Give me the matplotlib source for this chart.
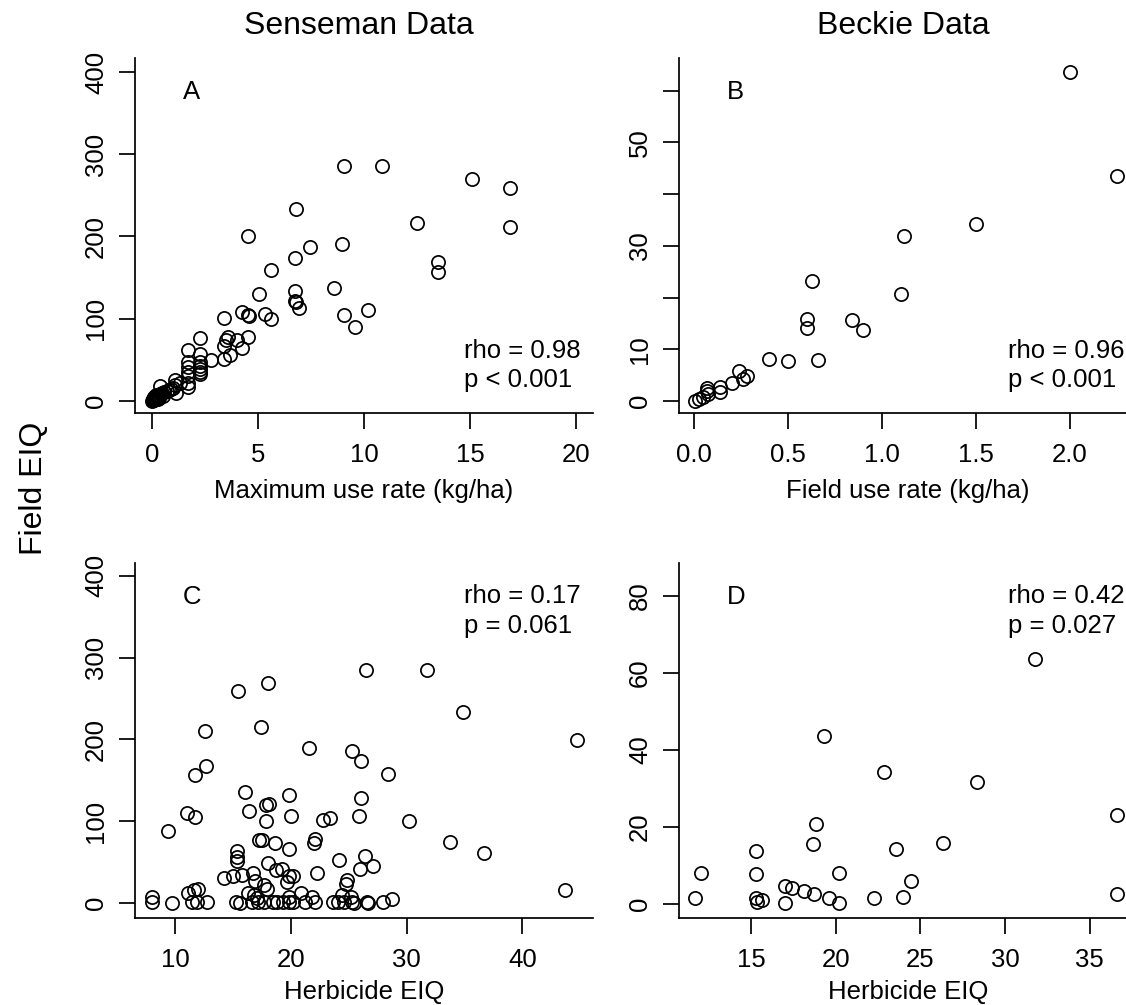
"""
Field EIQ vs use rate and herbicide EIQ
---------------------------------------
Four scatter panels (Senseman data left, Beckie data right),
drawn in the plain base-R look: open circles, L-shaped box.
"""

import matplotlib.pyplot as plt

plt.rcParams["font.family"] = ["Liberation Sans", "DejaVu Sans"]

# Panel A: Senseman, maximum use rate (kg/ha) vs field EIQ
a_rate = [9.08, 10.87, 15.09, 16.9, 16.9, 12.48, 6.79, 4.52, 7.46, 8.96,
          6.73, 13.5, 13.5, 5.64, 5.06, 8.61, 6.75, 6.75, 6.79, 6.95,
          9.08, 9.59, 10.17, 3.40, 4.27, 4.52, 4.58, 5.32, 5.64, 4.52,
          4.27, 4.04, 3.60, 3.48, 3.40, 3.68, 3.40, 2.81, 2.26, 1.71,
          2.26, 2.26, 2.26, 2.26, 2.26, 2.26, 1.71, 1.71, 1.71, 1.71,
          1.71, 1.71, 1.11, 1.11, 1.15, 1.34, 0.39,
          0.02, 0.05, 0.08, 0.10, 0.12, 0.15, 0.18, 0.20, 0.25, 0.30,
          0.35, 0.40, 0.45, 0.50, 0.60, 0.70, 0.80, 0.90, 0.05, 0.30,
          0.55, 1.00, 0.10, 0.22, 0.35]
a_eiq = [286, 286, 270, 259, 211, 216, 234, 200, 187, 191,
         174, 169, 157, 159, 130, 137, 134, 122, 120, 113,
         105, 90, 111, 101, 108, 104, 103, 106, 100, 78,
         65, 74, 78, 74, 67, 56, 51, 50, 76, 62,
         57, 47, 43, 39, 35, 33, 47, 41, 35, 30,
         22, 17, 26, 20, 10, 22, 18,
         0.5, 1, 1.5, 2.5, 1, 3, 4, 2, 5, 6,
         7, 8, 9, 10, 11, 12, 13, 15, 3, 3,
         6, 16, 5, 7, 4]

# Panel B: Beckie, field use rate (kg/ha) vs field EIQ
b_rate = [2.0, 2.25, 1.5, 1.119, 1.099, 0.63, 0.60, 0.60, 0.84, 0.90,
          0.40, 0.50, 0.66, 0.24, 0.26, 0.28, 0.20, 0.14, 0.14, 0.067,
          0.07, 0.076, 0.028, 0.005, 0.05]
b_eiq = [63.6, 43.5, 34.3, 31.9, 20.7, 23.2, 15.9, 14.1, 15.7, 13.7,
         8.1, 7.7, 8.0, 5.9, 4.3, 4.8, 3.5, 2.7, 1.7, 2.6,
         1.9, 1.4, 0.5, 0.1, 0.8]

# Panel C: Senseman, herbicide EIQ vs field EIQ
c_herb = [26.48, 31.8, 18.07, 15.42, 34.84, 44.7, 12.59, 17.44, 21.53, 25.27,
          26.02, 12.65, 11.76, 28.39, 16.0, 19.86, 26.05, 17.84, 18.13, 16.4,
          11.0, 11.7, 20.03, 17.87, 22.82, 23.4, 25.85, 30.2, 9.39, 17.29,
          17.55, 18.67, 19.86, 21.96, 22.1, 33.78, 36.7, 15.33, 15.33, 15.33,
          18.0, 18.7, 19.28, 19.86, 20.2, 19.65, 22.3, 24.18, 26.37, 27.09,
          26.0, 24.84, 24.75, 14.24, 15.04, 15.79, 16.71, 16.94, 17.72, 17.98,
          43.66, 7.98, 7.98, 9.74, 11.15, 11.67, 12.02, 11.44, 11.87, 12.74,
          15.27, 15.62, 16.34, 16.83, 17.06, 16.63, 17.2, 17.64, 18.44, 18.79,
          19.31, 19.8, 19.8, 20.23, 20.9, 21.24, 21.87, 22.1, 23.6, 24.06,
          24.41, 24.55, 25.22, 25.27, 25.42, 26.57, 26.7, 28.0, 28.73]
c_eiq = [285, 285, 269, 259, 233, 199, 210, 215, 190, 186,
         174, 168, 157, 158, 136, 132, 129, 120, 121, 113,
         110, 105, 106, 100, 102, 104, 107, 101, 88, 77,
         77, 73, 66, 74, 78, 75, 61, 64, 56, 51,
         49, 41, 42, 33, 33, 26, 37, 53, 58, 46,
         42, 28, 24, 31, 33, 35, 37, 27, 22, 18,
         16, 8, 1, 0, 12, 16, 18, 2, 2, 1,
         1, 0, 12, 10, 6, 1, 1, 1, 1, 1,
         1, 8, 1, 1, 12, 1, 8, 2, 1, 2,
         10, 1, 8, 2, 0, 1, 0, 2, 5]

# Panel D: Beckie, herbicide EIQ vs field EIQ
d_herb = [31.8, 19.32, 22.83, 28.35, 36.64, 18.85, 18.65, 26.34, 23.56, 15.3,
          15.3, 12.02, 20.19, 24.45, 17.01, 17.41, 18.1, 18.69, 19.58, 20.19,
          17.01, 11.7, 15.3, 15.34, 15.63, 22.28, 23.97, 36.64]
d_eiq = [63.7, 43.6, 34.3, 31.8, 23.2, 20.7, 15.7, 15.8, 14.2, 13.8,
         7.7, 8.0, 8.1, 5.9, 4.8, 4.3, 3.5, 2.7, 1.5, 0.2,
         0.3, 1.6, 1.5, 0.6, 1.0, 1.5, 1.8, 2.6]

W, H = 1126, 1005
FS = 18.5
LW = 1.25


def px_rect(left, top, right, bottom):
    """Axes rectangle from pixel edges (origin at the top left)."""
    return [left / W, 1 - bottom / H, (right - left) / W, (bottom - top) / H]


def scatter_panel(fig, rect, x, y, xlim, ylim, xticks, xlabels, yticks, ylabels,
                  xlabel, letter, stats, stats_y, labelpad=9):
    ax = fig.add_axes(rect)
    ax.plot(x, y, linestyle="none", marker="o", markersize=9.5,
            markerfacecolor="none", markeredgecolor="black", markeredgewidth=LW)
    ax.set_xlim(*xlim)
    ax.set_ylim(*ylim)

    # base-R look: only the left and bottom lines
    for side in ["top", "right"]:
        ax.spines[side].set_visible(False)
    for side in ["left", "bottom"]:
        ax.spines[side].set_linewidth(LW)

    ax.set_xticks(xticks)
    ax.set_xticklabels(xlabels)
    ax.set_yticks(yticks)
    ax.set_yticklabels(ylabels, rotation=90, va="center")
    ax.tick_params(length=11.5, width=LW, labelsize=FS, direction="out")
    ax.tick_params(axis="x", pad=10)
    ax.tick_params(axis="y", pad=8)

    ax.set_xlabel(xlabel, fontsize=FS, labelpad=labelpad)

    ax.text(0.124, 0.903, letter, transform=ax.transAxes, fontsize=FS,
            ha="center", va="center")
    ax.text(0.718, stats_y[0], stats[0], transform=ax.transAxes, fontsize=FS,
            ha="left", va="baseline")
    ax.text(0.718, stats_y[1], stats[1], transform=ax.transAxes, fontsize=FS,
            ha="left", va="baseline")
    return ax


def main():
    fig = plt.figure(figsize=(W / 100, H / 100), dpi=100)

    # A) Senseman, use rate
    scatter_panel(fig, px_rect(135, 58, 593, 413), a_rate, a_eiq,
                  (-0.79, 20.8), (-14.6, 417),
                  [0, 5, 10, 15, 20], ["0", "5", "10", "15", "20"],
                  [0, 100, 200, 300, 400], ["0", "100", "200", "300", "400"],
                  "Maximum use rate (kg/ha)", "A",
                  ["rho = 0.98", "p < 0.001"], [0.154, 0.0725])

    # B) Beckie, use rate (right side runs past the figure edge)
    scatter_panel(fig, px_rect(679, 58, 1137, 413), b_rate, b_eiq,
                  (-0.08, 2.356), (-2.3, 66.3),
                  [0, 0.5, 1.0, 1.5, 2.0], ["0.0", "0.5", "1.0", "1.5", "2.0"],
                  [0, 10, 20, 30, 40, 50, 60], ["0", "10", "", "30", "", "50", ""],
                  "Field use rate (kg/ha)", "B",
                  ["rho = 0.96", "p < 0.001"], [0.154, 0.0725])

    # C) Senseman, herbicide EIQ (label nudged up so it stays inside the figure)
    scatter_panel(fig, px_rect(135, 563, 593, 918), c_herb, c_eiq,
                  (6.54, 46.1), (-18, 415.5),
                  [10, 20, 30, 40], ["10", "20", "30", "40"],
                  [0, 100, 200, 300, 400], ["0", "100", "200", "300", "400"],
                  "Herbicide EIQ", "C",
                  ["rho = 0.17", "p = 0.061"], [0.887, 0.803], labelpad=6)

    # D) Beckie, herbicide EIQ
    scatter_panel(fig, px_rect(679, 563, 1137, 918), d_herb, d_eiq,
                  (10.74, 37.8), (-3.6, 88.5),
                  [15, 20, 25, 30, 35], ["15", "20", "25", "30", "35"],
                  [0, 20, 40, 60, 80], ["0", "20", "40", "60", "80"],
                  "Herbicide EIQ", "D",
                  ["rho = 0.42", "p = 0.027"], [0.887, 0.803], labelpad=6)

    # column titles and shared y label
    fig.text(359 / W, 1 - 26 / H, "Senseman Data", fontsize=23,
             ha="center", va="center")
    fig.text(903 / W, 1 - 26 / H, "Beckie Data", fontsize=23,
             ha="center", va="center")
    fig.text(34 / W, 1 - 488 / H, "Field EIQ", fontsize=23, rotation=90,
             ha="center", va="center")

    fig.savefig("out.png", dpi=100)
    plt.close(fig)


if __name__ == "__main__":
    main()
